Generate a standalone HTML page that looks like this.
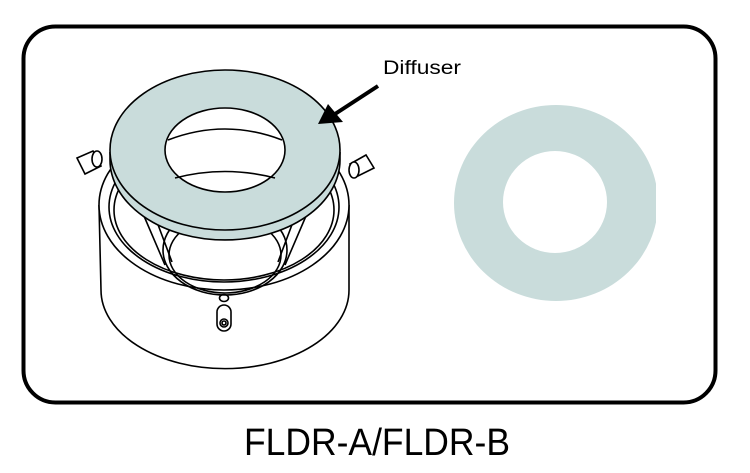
<!DOCTYPE html>
<html><head><meta charset="utf-8"><style>
html,body{margin:0;padding:0;background:#fff;}
svg{display:block;}
</style></head><body>
<svg width="750" height="473" viewBox="0 0 750 473" xmlns="http://www.w3.org/2000/svg">
<rect x="23.5" y="26.5" width="692" height="376" rx="32" fill="#fff" stroke="#000" stroke-width="4"/>
<defs><clipPath id="c"><rect x="440" y="100" width="216" height="220"/></clipPath></defs>
<g clip-path="url(#c)">
<ellipse cx="556" cy="203" rx="102" ry="98" fill="#c9dcdb"/>
<ellipse cx="555" cy="202" rx="52" ry="51" fill="#fff"/>
</g>
<g fill="none" stroke="#000" stroke-width="1.6">
<path d="M99 205 L101 290 A123 78 0 0 0 349 290 L349 205" fill="#fff"/>
<ellipse cx="224" cy="205" rx="125" ry="85" fill="#fff"/>
<ellipse cx="224" cy="207" rx="115" ry="75"/>
<ellipse cx="224" cy="210" rx="110" ry="70"/>
<ellipse cx="225" cy="250" rx="62" ry="45"/>
<ellipse cx="225" cy="255" rx="56" ry="38"/>
<path d="M135 195 L165 265 M145 190 L172 262 M315 195 L285 265 M305 190 L278 262"/>
<path d="M77 158 L93 151 L101 166 L85 174 Z" fill="#fff"/>
<ellipse cx="97" cy="159" rx="5" ry="8" fill="#fff"/>
<path d="M350 164 L366 155 L374 168 L358 176 Z" fill="#fff"/>
<ellipse cx="354" cy="170" rx="5" ry="8" fill="#fff"/>
<ellipse cx="224" cy="298" rx="4.5" ry="3.5"/>
<rect x="217" y="305" width="14" height="26" rx="7"/>
<circle cx="224" cy="323" r="4"/>
<circle cx="224" cy="323" r="2"/>
<path d="M110 152 L110 160 A115 80 0 0 0 340 160 L340 152" fill="#c9dcdb"/>
<ellipse cx="225" cy="150" rx="115" ry="80" fill="#c9dcdb"/>
<ellipse cx="225" cy="150" rx="60" ry="42" fill="#fff"/>
<path d="M168 140 Q225 118 282 140" />
<path d="M175 178 Q225 165 275 178"/>
</g>
<line x1="378" y1="86" x2="335" y2="114" stroke="#000" stroke-width="4"/>
<polygon points="318,124 328,104 343,122" fill="#000"/>
<text x="383" y="74" font-family="Liberation Sans, sans-serif" font-size="19" textLength="78" lengthAdjust="spacingAndGlyphs" fill="#000">Diffuser</text>
<text x="244" y="455" font-family="Liberation Sans, sans-serif" font-size="38" textLength="266" lengthAdjust="spacingAndGlyphs" fill="#000">FLDR-A/FLDR-B</text>
</svg>
</body></html>
